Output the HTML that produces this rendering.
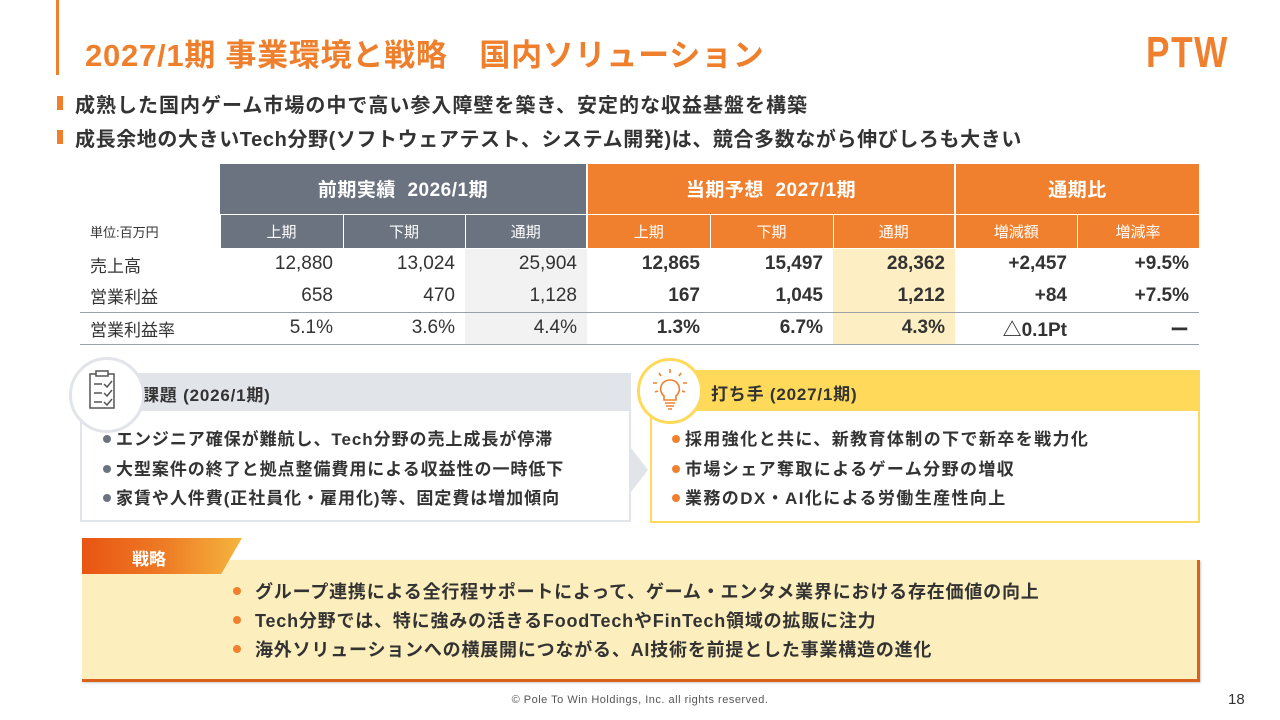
<!DOCTYPE html>
<html><head><meta charset="utf-8">
<style>
*{margin:0;padding:0;box-sizing:border-box}
body{width:1280px;height:720px;background:#fff;position:relative;overflow:hidden;font-family:"Liberation Sans","Noto Sans CJK JP",sans-serif;color:#333}
.abs{position:absolute}
.title{left:85px;top:30px;font-size:31px;font-weight:bold;color:#ee7f2d;white-space:nowrap;letter-spacing:0.75px}
.lead{left:75px;font-size:20px;font-weight:bold;color:#333;white-space:nowrap;letter-spacing:1px}
.sq{left:57px;width:6px;height:14px;background:#ee7f2d}
table{position:absolute;left:80px;top:164px;border-collapse:collapse;font-size:19px}
td{height:32px;padding:0 10px;text-align:right;white-space:nowrap}
.gh{height:50px;color:#fff;text-align:center;font-size:19px;font-weight:bold;letter-spacing:0.5px}
.sh{height:34px;color:#fff;text-align:center;font-size:15px}
.g{background:#6b7380}.o{background:#f0802e}
.lbl{text-align:left;font-size:17px}
.b{font-weight:bold}
.sum1{background:#f2f2f2}.sum2{background:#fdefc3}
.li{font-size:17px;font-weight:bold;white-space:nowrap;position:absolute;letter-spacing:1.4px}
.iss{letter-spacing:0.95px}
.st{letter-spacing:0.8px;font-size:18px}
.dot{display:inline-block;width:8px;height:8px;border-radius:50%;margin-right:5px;vertical-align:middle;position:relative;top:-2px}
</style></head><body>
<div class="abs" style="left:56px;top:0;width:3px;height:75px;background:#ee7f2d"></div>
<div class="abs title">2027/1期 事業環境と戦略　国内ソリューション</div>
<div class="abs" style="left:1146px;top:28px;font-size:44px;font-weight:bold;color:#f0802e;letter-spacing:2px;transform:scaleX(0.8);transform-origin:left">PTW</div>
<div class="abs sq" style="top:96px"></div>
<div class="abs lead" style="top:89px">成熟した国内ゲーム市場の中で高い参入障壁を築き、安定的な収益基盤を構築</div>
<div class="abs sq" style="top:130px"></div>
<div class="abs lead" style="top:123px;letter-spacing:0.6px">成長余地の大きいTech分野(ソフトウェアテスト、システム開発)は、競合多数ながら伸びしろも大きい</div>

<table>
<colgroup><col style="width:140px"><col style="width:123px"><col style="width:122px"><col style="width:122px"><col style="width:123px"><col style="width:123px"><col style="width:122px"><col style="width:122px"><col style="width:122px"></colgroup>
<tr><td></td><td colspan="3" class="gh g" style="border-right:2px solid #fff">前期実績&nbsp; 2026/1期</td><td colspan="3" class="gh o" style="border-right:2px solid #fff">当期予想&nbsp; 2027/1期</td><td colspan="2" class="gh o">通期比</td></tr>
<tr><td class="lbl" style="font-size:13px;height:34px">単位:百万円</td>
<td class="sh g" style="border:1px solid #fff">上期</td><td class="sh g" style="border:1px solid #fff">下期</td><td class="sh g" style="border:1px solid #fff;border-right:2px solid #fff">通期</td>
<td class="sh o" style="border:1px solid #fff">上期</td><td class="sh o" style="border:1px solid #fff">下期</td><td class="sh o" style="border:1px solid #fff;border-right:2px solid #fff">通期</td>
<td class="sh o" style="border:1px solid #fff">増減額</td><td class="sh o" style="border:1px solid #fff">増減率</td></tr>
<tr><td class="lbl">売上高</td><td>12,880</td><td>13,024</td><td class="sum1">25,904</td><td class="b">12,865</td><td class="b">15,497</td><td class="b sum2">28,362</td><td class="b">+2,457</td><td class="b">+9.5%</td></tr>
<tr style="border-bottom:1px solid #9aa0a8"><td class="lbl">営業利益</td><td>658</td><td>470</td><td class="sum1">1,128</td><td class="b">167</td><td class="b">1,045</td><td class="b sum2">1,212</td><td class="b">+84</td><td class="b">+7.5%</td></tr>
<tr style="border-bottom:1px solid #9aa0a8"><td class="lbl">営業利益率</td><td>5.1%</td><td>3.6%</td><td class="sum1">4.4%</td><td class="b">1.3%</td><td class="b">6.7%</td><td class="b sum2">4.3%</td><td class="b">△0.1Pt</td><td class="b">ー</td></tr>
</table>

<div class="abs" style="left:100px;top:373px;width:531px;height:38px;background:#e1e4e8"></div>
<div class="abs" style="left:80px;top:410px;width:551px;height:112px;border:2px solid #e1e4e8;border-top:none"></div>
<div class="abs" style="left:142px;top:381px;font-size:17px;font-weight:bold;letter-spacing:0.8px">課題 (2026/1期)</div>
<div class="abs" style="left:69px;top:357px;width:76px;height:76px;border-radius:50%;background:#fff;border:3px solid #e1e4e8">
<svg width="70" height="70" viewBox="0 0 70 70"><rect x="18" y="14" width="24" height="34" fill="none" stroke="#555" stroke-width="1.5"/><rect x="24" y="11" width="12" height="5" fill="#fff" stroke="#555" stroke-width="1.5"/><g stroke="#555" stroke-width="1.5" fill="none"><path d="M22 24h8M22 33h8M22 42h8M32 24l3 3 5-6M32 33l3 3 5-6M32 42l3 3 5-6"/></g></svg></div>
<div class="li iss" style="left:103px;top:425px"><span class="dot" style="background:#6b7380"></span>エンジニア確保が難航し、Tech分野の売上成長が停滞</div>
<div class="li iss" style="left:103px;top:455px"><span class="dot" style="background:#6b7380"></span>大型案件の終了と拠点整備費用による収益性の一時低下</div>
<div class="li iss" style="left:103px;top:484px"><span class="dot" style="background:#6b7380"></span>家賃や人件費(正社員化・雇用化)等、固定費は増加傾向</div>
<div class="abs" style="left:631px;top:448px;width:0;height:0;border-top:22px solid transparent;border-bottom:22px solid transparent;border-left:17px solid #e1e4e8"></div>

<div class="abs" style="left:672px;top:370px;width:528px;height:41px;background:#ffd95a"></div>
<div class="abs" style="left:650px;top:410px;width:550px;height:113px;border:2px solid #ffd95a;border-top:none"></div>
<div class="abs" style="left:711px;top:380px;font-size:17px;font-weight:bold;letter-spacing:0.8px">打ち手 (2027/1期)</div>
<div class="abs" style="left:637px;top:358px;width:66px;height:66px;border-radius:50%;background:#fff;border:3px solid #ffd95a">
<svg width="60" height="60" viewBox="0 0 60 60"><g stroke="#f0802e" stroke-width="1.6" fill="none"><path d="M30 19a9 9 0 0 0-6 16v4h12v-4a9 9 0 0 0-6-16z"/><path d="M25 42h10M26 45h8M28 48h4M30 8v4M19 12l2 3M41 12l-2 3M13 22h4M43 22h4M15 31l3-1M45 31l-3-1"/></g></svg></div>
<div class="li" style="left:672px;top:425px"><span class="dot" style="background:#f0802e"></span>採用強化と共に、新教育体制の下で新卒を戦力化</div>
<div class="li" style="left:672px;top:455px"><span class="dot" style="background:#f0802e"></span>市場シェア奪取によるゲーム分野の増収</div>
<div class="li" style="left:672px;top:484px"><span class="dot" style="background:#f0802e"></span>業務のDX・AI化による労働生産性向上</div>

<div class="abs" style="left:82px;top:560px;width:1118px;height:122px;background:#fdefbd;border-bottom:3px solid #d9621a;border-right:3px solid #d9621a;box-shadow:1px 1px 2px rgba(0,0,0,.2)"></div>
<div class="abs" style="left:82px;top:538px;width:160px;height:36px;background:linear-gradient(90deg,#e85512 0%,#ee7a25 50%,#f5b53e 100%);clip-path:polygon(0 0,100% 0,87% 100%,0 100%)"></div>
<div class="abs" style="left:132px;top:545px;font-size:17px;font-weight:bold;color:#fff">戦略</div>
<div class="li st" style="left:233px;top:578px"><span class="dot" style="background:#f0802e;margin-right:14px"></span>グループ連携による全行程サポートによって、ゲーム・エンタメ業界における存在価値の向上</div>
<div class="li st" style="left:233px;top:607px"><span class="dot" style="background:#f0802e;margin-right:14px"></span>Tech分野では、特に強みの活きるFoodTechやFinTech領域の拡販に注力</div>
<div class="li st" style="left:233px;top:636px"><span class="dot" style="background:#f0802e;margin-right:14px"></span>海外ソリューションへの横展開につながる、AI技術を前提とした事業構造の進化</div>

<div class="abs" style="left:0;width:1280px;text-align:center;top:694px;font-size:11px;color:#555;letter-spacing:0.5px">© Pole To Win Holdings, Inc. all rights reserved.</div>
<div class="abs" style="left:1228px;top:691px;font-size:15px;color:#333">18</div>
</body></html>
